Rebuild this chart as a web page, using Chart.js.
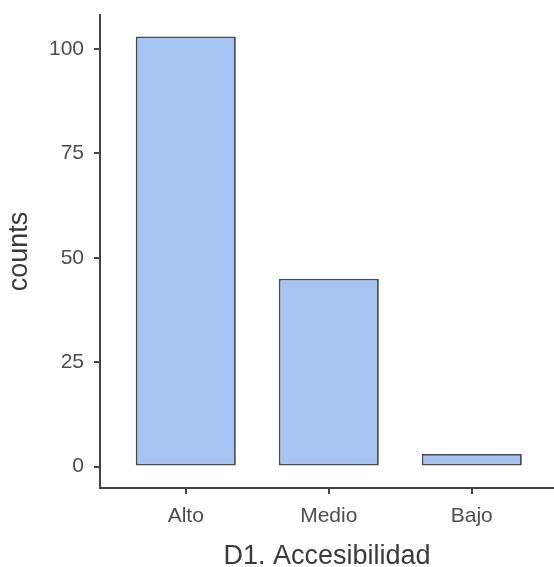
<!DOCTYPE html>
<html lang="es">
<head>
    <meta charset="UTF-8">
    <title>D1. Accesibilidad</title>
    <script src="https://cdn.jsdelivr.net/npm/chart.js"></script>
    <style>
        body { margin: 0; background: #fff; }
        #wrap { width: 554px; height: 567px; }
    </style>
</head>
<body>
    <div id="wrap"><canvas id="chart" width="554" height="567"></canvas></div>
    <script>
        // Datos
        const categories = ["Alto", "Medio", "Bajo"];
        const counts = [103, 45, 3];
        const yTicks = [0, 25, 50, 75, 100];

        const axisColor = "#444";
        const textColor = "#4d4d4d";
        const font = "'Liberation Sans', Arial, sans-serif";

        const points = categories.map((c, i) => ({ x: i + 1, y: counts[i] }));

        new Chart(document.getElementById("chart"), {
            type: "bar",
            data: {
                datasets: [{
                    data: points,
                    backgroundColor: "#a5c4f1",
                    borderColor: "#4a4a4a",
                    borderWidth: 1.8,
                    borderSkipped: false,
                    barPercentage: 0.7,
                    categoryPercentage: 1.0
                }]
            },
            options: {
                responsive: false,
                animation: false,
                layout: { padding: { top: 15, right: 0, left: 0, bottom: 0 } },
                plugins: { legend: { display: false }, tooltip: { enabled: false } },
                scales: {
                    x: {
                        type: "linear",
                        offset: false,
                        min: 0.4,
                        max: 3.575,
                        afterBuildTicks: s => { s.ticks = categories.map((c, i) => ({ value: i + 1 })); },
                        afterFit: s => { s.height = 79; s.paddingLeft = 0; s.paddingRight = 0; },
                        ticks: {
                            callback: v => categories[v - 1],
                            color: textColor,
                            font: { family: font, size: 21 },
                            padding: 10,
                            maxRotation: 0
                        },
                        grid: { offset: false, drawOnChartArea: false, drawTicks: true, tickLength: 6, color: axisColor, lineWidth: 2 },
                        border: { display: true, color: axisColor, width: 2 },
                        title: {
                            display: true,
                            text: "D1. Accesibilidad",
                            color: "#3a3a3a",
                            font: { family: font, size: 27, lineHeight: 1 },
                            padding: { top: 0, bottom: -3 }
                        }
                    },
                    y: {
                        min: -5.15,
                        max: 108.15,
                        afterBuildTicks: s => { s.ticks = yTicks.map(v => ({ value: v })); },
                        afterFit: s => { s.width = 100; s.paddingTop = 0; s.paddingBottom = 0; },
                        ticks: {
                            color: textColor,
                            font: { family: font, size: 21 },
                            padding: 10
                        },
                        grid: { drawOnChartArea: false, drawTicks: true, tickLength: 6, color: axisColor, lineWidth: 2 },
                        border: { display: true, color: axisColor, width: 2 },
                        title: {
                            display: true,
                            text: "counts",
                            color: "#3a3a3a",
                            font: { family: font, size: 27, lineHeight: 1 },
                            padding: { top: 6, bottom: 0 }
                        }
                    }
                }
            }
        });
    </script>
</body>
</html>
